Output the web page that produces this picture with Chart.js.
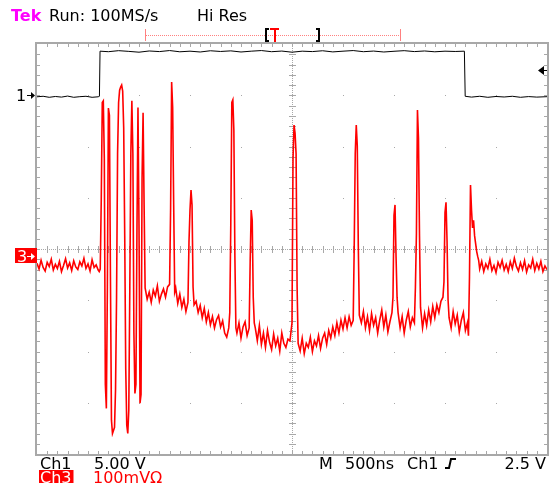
<!DOCTYPE html>
<html>
<head>
<meta charset="utf-8">
<script src="https://cdn.jsdelivr.net/npm/chart.js@4/dist/chart.umd.min.js"></script>
<style>
  html, body { margin: 0; padding: 0; background: #fff; }
  #wrap { width: 549px; height: 483px; }
</style>
</head>
<body>
<div id="wrap"><canvas id="scope" width="549" height="483"></canvas></div>
<script>
// Canal 1: [tiempo ns, voltios]
const ch1Points = [
  [0, -0.15], [60, -0.1], [120, -0.2], [180, -0.12], [240, -0.18], [300, -0.08], [360, -0.2],
  [420, -0.14], [480, -0.1], [540, -0.2], [600, -0.15], [612, -0.1], [618, 4.3],
  [700, 4.25], [800, 4.35], [900, 4.28], [1000, 4.2], [1100, 4.32], [1200, 4.26], [1300, 4.36],
  [1400, 4.24], [1500, 4.3], [1600, 4.22], [1700, 4.34], [1800, 4.27], [1900, 4.33], [2000, 4.22],
  [2100, 4.3], [2200, 4.36], [2300, 4.25], [2400, 4.31], [2500, 4.2], [2600, 4.3], [2700, 4.26],
  [2800, 4.34], [2900, 4.23], [3000, 4.3], [3100, 4.36], [3200, 4.25], [3300, 4.31], [3400, 4.22],
  [3500, 4.29], [3600, 4.35], [3700, 4.26], [3800, 4.32], [3900, 4.24], [4000, 4.3], [4100, 4.27],
  [4190, 4.3], [4198, -0.1], [4260, -0.18], [4340, -0.1], [4420, -0.2], [4500, -0.12],
  [4580, -0.17], [4660, -0.1], [4740, -0.2], [4820, -0.13], [4900, -0.18], [5000, -0.14]
];

// Canal 3: [tiempo ns, mV]
const ch3Points = [
  [0, -14], [20, -25], [40, -8], [60, -22], [80, -29], [100, -12], [120, -20], [140, -6],
  [160, -27], [180, -16], [200, -24], [220, -10], [240, -30], [260, -18], [280, -5], [300, -23],
  [320, -13], [340, -28], [360, -9], [380, -21], [400, -26], [420, -11], [440, -19], [460, -4],
  [480, -24], [500, -15], [520, -29], [540, -7], [560, -22], [580, -17], [600, -27],
  [610, -30], [620, -25], [630, 110], [640, 300], [650, 303], [660, 190], [670, -250], [680, -297],
  [690, -60], [700, 289], [710, 275], [720, -40], [730, -320], [740, -346], [750, -340], [760, -334],
  [770, -260], [780, -80], [790, 200], [800, 300], [810, 324], [820, 330], [830, 334], [840, 322],
  [850, 250], [860, 40], [870, -220], [880, -330], [890, -346], [900, -300], [910, -60], [920, 200],
  [930, 303], [940, 200], [950, -150], [960, -268], [970, -250], [980, 50], [990, 290], [1000, 60],
  [1010, -287], [1020, -270], [1030, 150], [1040, 280], [1050, 100], [1060, -62],
  [1080, -84], [1100, -70], [1120, -90], [1140, -66], [1160, -78], [1180, -58], [1200, -88],
  [1220, -74], [1240, -64], [1260, -80], [1280, -60], [1300, -55],
  [1310, 94], [1320, 340], [1330, 290], [1340, 100], [1350, -70],
  [1360, -62], [1380, -92], [1400, -74], [1420, -100], [1440, -84], [1460, -108], [1480, -90],
  [1490, 27], [1500, 90], [1510, 129], [1520, 100], [1530, -60], [1540, -95],
  [1560, -88], [1580, -110], [1600, -96], [1620, -120], [1640, -102], [1660, -128], [1680, -110],
  [1700, -134], [1720, -118], [1740, -140], [1760, -124], [1780, -116], [1800, -138], [1820, -126],
  [1840, -150], [1860, -158], [1880, -140],
  [1890, -110], [1900, 64], [1910, 300], [1920, 305], [1930, 246], [1940, 0], [1950, -140],
  [1960, -150], [1980, -130], [2000, -160], [2020, -138], [2040, -128], [2060, -155], [2080, -140],
  [2090, -10], [2100, 90], [2110, 70], [2120, -80], [2130, -130],
  [2140, -140], [2160, -165], [2180, -135], [2200, -172], [2220, -150], [2240, -178], [2260, -145],
  [2280, -168], [2300, -182], [2320, -152], [2340, -175], [2360, -160], [2380, -185], [2400, -150],
  [2420, -170], [2440, -178], [2460, -162], [2480, -165],
  [2500, -130], [2510, 190], [2520, 256], [2530, 240], [2540, 200], [2550, -60], [2560, -170],
  [2580, -185], [2600, -160], [2620, -190], [2640, -170], [2660, -178], [2680, -158], [2700, -186],
  [2720, -165], [2740, -175], [2760, -155], [2780, -180], [2800, -160], [2820, -150], [2840, -172],
  [2860, -145], [2880, -160], [2900, -138], [2920, -155], [2940, -130], [2960, -150], [2980, -125],
  [3000, -142], [3020, -120], [3040, -140], [3060, -118], [3080, -135], [3100, -125],
  [3110, 20], [3120, 200], [3130, 256], [3140, 215], [3150, 20], [3160, -115],
  [3180, -130], [3200, -108], [3220, -140], [3240, -118], [3260, -145], [3280, -112], [3300, -135],
  [3320, -120], [3340, -150], [3360, -125], [3380, -105], [3400, -138], [3420, -115], [3440, -148],
  [3460, -128], [3480, -110],
  [3490, -80], [3500, 80], [3510, 100], [3520, 0], [3530, -80], [3540, -110],
  [3560, -140], [3580, -118], [3600, -150], [3620, -125], [3640, -108], [3660, -138], [3680, -120],
  [3700, -130],
  [3710, -60], [3720, 45], [3730, 285], [3740, 230], [3750, 40], [3760, -100],
  [3780, -140], [3800, -112], [3820, -135], [3840, -105], [3860, -128], [3880, -98], [3900, -120],
  [3920, -95], [3940, -110], [3960, -88], [3980, -80],
  [3990, -50], [4000, 85], [4010, 105], [4020, 30], [4030, -85],
  [4040, -120], [4060, -140], [4080, -108], [4100, -132], [4120, -115], [4140, -148], [4160, -125],
  [4180, -110], [4200, -145], [4220, -130], [4230, -155],
  [4240, -40], [4250, 139], [4260, 90], [4270, 55], [4280, 70], [4290, 40], [4300, 25], [4310, 10],
  [4320, 0], [4330, -8],
  [4340, -25], [4360, -10], [4380, -30], [4400, -15], [4420, -24], [4440, -6], [4460, -28],
  [4480, -18], [4500, -32], [4520, -12], [4540, -22], [4560, -8], [4580, -27], [4600, -16],
  [4620, -30], [4640, -11], [4660, -24], [4680, -4], [4700, -20], [4720, -29], [4740, -13],
  [4760, -26], [4780, -9], [4800, -31], [4820, -17], [4840, -23], [4860, -6], [4880, -28],
  [4900, -14], [4920, -25], [4940, -10], [4960, -30], [4980, -19], [5000, -26]
];

// Ajustes del osciloscopio
const timePerDiv = 500;      // ns
const ch1VoltsPerDiv = 5;
const ch1Position = 3;       // divisiones sobre el centro
const ch3MvPerDiv = 100;
const ch3Position = -0.14;
const triggerLevel = 2.5;    // V en Ch1

const headerTexts = ['Run: 100MS/s', 'Hi Res'];
const footerTexts = ['Ch1', '5.00 V', 'M', '500ns', 'Ch1', '2.5 V'];
const ch3Label = 'Ch3';
const ch3Scale = '100mV\u03A9';

const FONT = '16px "DejaVu Sans"';

// Graticula tipo Tek
const graticula = {
  id: 'graticula',
  beforeDatasetsDraw(chart) {
    const { ctx, chartArea: a } = chart;
    const dx = (a.right - a.left) / 10;
    const dy = (a.bottom - a.top) / 8;
    const cx = Math.round(a.left + 5 * dx);
    const cy = Math.round(a.top + 4 * dy);
    ctx.save();
    ctx.fillStyle = '#a8a8a8';
    for (let i = 1; i < 10; i++) {
      for (let j = 1; j < 8; j++) {
        ctx.fillRect(Math.round(a.left + i * dx), Math.round(a.top + j * dy), 1, 1);
      }
    }
    for (let x = a.left; x < a.right; x += 2) ctx.fillRect(x, cy, 1, 1);
    for (let y = a.top; y < a.bottom; y += 2) ctx.fillRect(cx, y, 1, 1);
    for (let k = 1; k < 50; k++) {
      const x = Math.round(a.left + k * dx / 5);
      ctx.fillRect(x, cy - 3, 1, 7);
      ctx.fillRect(x, a.top, 1, 3);
      ctx.fillRect(x, a.bottom - 3, 1, 3);
    }
    for (let k = 1; k < 40; k++) {
      const y = Math.round(a.top + k * dy / 5);
      ctx.fillRect(cx - 3, y, 7, 1);
      ctx.fillRect(a.left, y, 3, 1);
      ctx.fillRect(a.right - 3, y, 3, 1);
    }
    ctx.strokeStyle = '#a8a8a8';
    ctx.lineWidth = 2;
    ctx.strokeRect(a.left - 1, a.top - 1, a.right - a.left + 2, a.bottom - a.top + 2);
    ctx.restore();
  },
  afterDraw(chart) {
    const { ctx } = chart;
    const y1 = chart.scales.y1;
    const y3 = chart.scales.y3;
    ctx.save();
    ctx.textBaseline = 'alphabetic';
    ctx.textAlign = 'left';

    // cabecera
    ctx.font = 'bold ' + FONT;
    ctx.fillStyle = '#ff00ff';
    ctx.fillText('Tek', 11, 21);
    ctx.font = FONT;
    ctx.fillStyle = '#000';
    ctx.fillText(headerTexts[0], 49, 21);
    ctx.fillText(headerTexts[1], 197, 21);

    // barra del registro
    ctx.fillStyle = '#ff8080';
    for (let x = 146; x < 401; x += 2) ctx.fillRect(x, 35, 1, 1);
    ctx.fillRect(145, 29, 1, 12);
    ctx.fillRect(400, 29, 1, 12);
    ctx.fillStyle = '#000';
    ctx.fillRect(265, 28, 2, 14); ctx.fillRect(265, 28, 4, 2); ctx.fillRect(265, 40, 4, 2);
    ctx.fillRect(318, 28, 2, 14); ctx.fillRect(316, 28, 4, 2); ctx.fillRect(316, 40, 4, 2);
    ctx.fillStyle = '#ff0000';
    ctx.fillRect(270, 28, 9, 2);
    ctx.fillRect(274, 28, 2, 14);

    // marcador de tierra Ch1
    const g1 = Math.round(y1.getPixelForValue(0));
    ctx.fillStyle = '#000';
    ctx.font = FONT;
    ctx.fillText('1', 16, g1 + 6);
    ctx.fillRect(27, g1, 7, 1);
    ctx.beginPath();
    ctx.moveTo(35, g1 + 0.5); ctx.lineTo(31, g1 - 3); ctx.lineTo(31, g1 + 4); ctx.closePath();
    ctx.fill();

    // marcador de tierra Ch3
    const g3 = Math.round(y3.getPixelForValue(0));
    ctx.fillStyle = '#ff0000';
    ctx.fillRect(15, g3 - 8, 22, 15);
    ctx.fillStyle = '#fff';
    ctx.fillText('3', 17, g3 + 6);
    ctx.fillRect(27, g3, 7, 1);
    ctx.beginPath();
    ctx.moveTo(35, g3 + 0.5); ctx.lineTo(31, g3 - 3); ctx.lineTo(31, g3 + 4); ctx.closePath();
    ctx.fill();

    // nivel de disparo
    const gt = Math.round(y1.getPixelForValue(triggerLevel));
    ctx.fillStyle = '#000';
    ctx.beginPath();
    ctx.moveTo(538, gt + 0.5); ctx.lineTo(544, gt - 4); ctx.lineTo(544, gt + 5); ctx.closePath();
    ctx.fill();
    ctx.fillRect(542, gt, 5, 1);

    // pie
    ctx.fillStyle = '#000';
    ctx.fillText(footerTexts[0], 40, 469);
    ctx.fillText(footerTexts[1], 94, 469);
    ctx.fillText(footerTexts[2], 319, 469);
    ctx.fillText(footerTexts[3], 345, 469);
    ctx.fillText(footerTexts[4], 407, 469);
    ctx.lineWidth = 2;
    ctx.strokeStyle = '#000';
    ctx.beginPath();
    ctx.moveTo(445, 468); ctx.lineTo(449, 468); ctx.lineTo(451, 459); ctx.lineTo(456, 459);
    ctx.stroke();
    ctx.textAlign = 'right';
    ctx.fillText(footerTexts[5], 546, 469);
    ctx.textAlign = 'left';

    ctx.fillStyle = '#ff0000';
    const wCh3 = ctx.measureText(ch3Label).width;
    ctx.fillRect(39, 470, wCh3 + 3, 13);
    ctx.fillStyle = '#fff';
    ctx.fillText(ch3Label, 40, 483);
    ctx.fillStyle = '#ff0000';
    ctx.fillText(ch3Scale, 93, 483);
    ctx.restore();
  }
};

let myChart;

function crearGrafico() {
  const ctx = document.getElementById('scope').getContext('2d');
  myChart = new Chart(ctx, {
    type: 'line',
    data: {
      datasets: [{
        label: 'Ch1',
        data: ch1Points.map(p => ({ x: p[0], y: p[1] })),
        yAxisID: 'y1',
        borderColor: '#000',
        borderWidth: 1,
        pointRadius: 0,
        tension: 0
      }, {
        label: 'Ch3',
        data: ch3Points.map(p => ({ x: p[0], y: p[1] })),
        yAxisID: 'y3',
        borderColor: '#ff0000',
        borderWidth: 1.6,
        pointRadius: 0,
        tension: 0
      }]
    },
    options: {
      responsive: false,
      animation: false,
      events: [],
      layout: { padding: { left: 37, top: 44, right: 2, bottom: 29 } },
      plugins: { legend: { display: false }, tooltip: { enabled: false } },
      scales: {
        x: { type: 'linear', display: false, min: 0, max: 10 * timePerDiv },
        y1: {
          display: false,
          min: (-4 - ch1Position) * ch1VoltsPerDiv,
          max: (4 - ch1Position) * ch1VoltsPerDiv
        },
        y3: {
          display: false,
          min: (-4 - ch3Position) * ch3MvPerDiv,
          max: (4 - ch3Position) * ch3MvPerDiv
        }
      }
    },
    plugins: [graticula]
  });
}

crearGrafico();
</script>
</body>
</html>
